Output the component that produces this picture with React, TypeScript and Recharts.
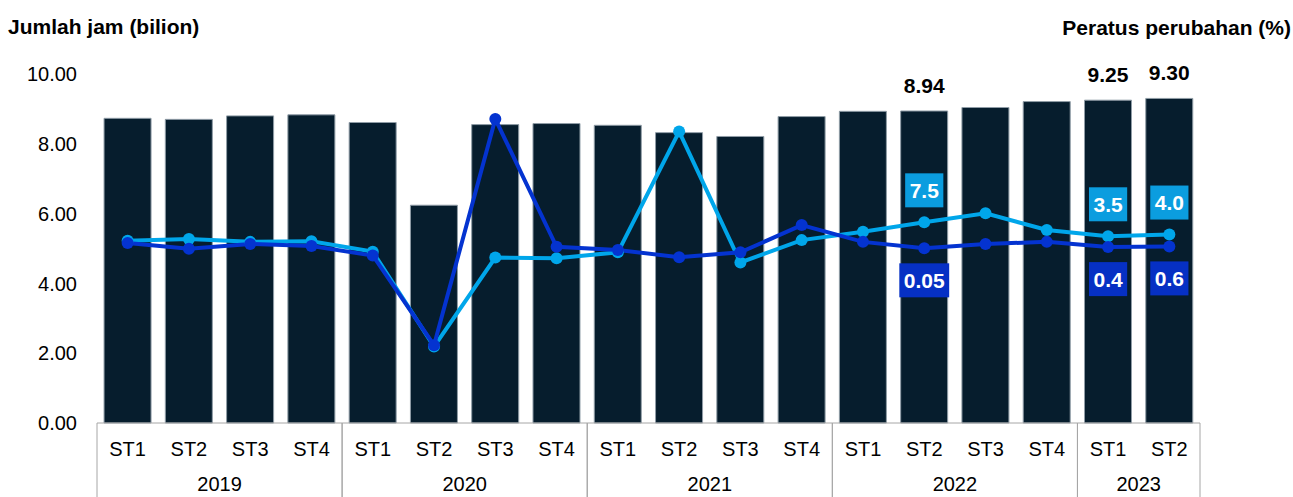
import React from 'react';
import { ComposedChart, Bar, Line, XAxis, YAxis, LabelList } from 'recharts';

const quarters = ['ST1', 'ST2', 'ST3', 'ST4', 'ST1', 'ST2', 'ST3', 'ST4', 'ST1', 'ST2', 'ST3', 'ST4', 'ST1', 'ST2', 'ST3', 'ST4', 'ST1', 'ST2'];
const years = ['2019', '2019', '2019', '2019', '2020', '2020', '2020', '2020', '2021', '2021', '2021', '2021', '2022', '2022', '2022', '2022', '2023', '2023'];
const hours = [8.73, 8.70, 8.80, 8.83, 8.61, 6.24, 8.55, 8.58, 8.53, 8.32, 8.21, 8.78, 8.93, 8.94, 9.04, 9.21, 9.25, 9.30];
const hoursLabels = ['', '', '', '', '', '', '', '', '', '', '', '', '', '8.94', '', '', '9.25', '9.30'];
const changeLight = [2.2, 2.7, 1.9, 2.1, -0.9, -28.1, -2.6, -2.8, -1.1, 33.5, -4.0, 2.4, 4.8, 7.5, 10.1, 5.3, 3.5, 4.0];
const changeLightLabels = ['', '', '', '', '', '', '', '', '', '', '', '', '', '7.5', '', '', '3.5', '4.0'];
const changeDark = [1.6, -0.1, 1.3, 0.7, -2.0, -27.7, 37.1, 0.5, -0.4, -2.5, -1.1, 6.7, 1.9, 0.05, 1.3, 1.9, 0.4, 0.6];
const changeDarkLabels = ['', '', '', '', '', '', '', '', '', '', '', '', '', '0.05', '', '', '0.4', '0.6'];
const leftTicks = [0, 2, 4, 6, 8, 10];
const rightTicks = [-50, -30, -10, 10, 30, 50];

const data = quarters.map((q, i) => ({
  q,
  year: years[i],
  hours: hours[i],
  hLabel: hoursLabels[i],
  light: changeLight[i],
  lightLabel: changeLightLabels[i],
  dark: changeDark[i],
  darkLabel: changeDarkLabels[i],
}));

const FONT = '"Liberation Sans", Arial, sans-serif';
const W = 1293;
const H = 497;
const M = { top: 74, right: 93, bottom: 0, left: 20 };
const LEFT_AXIS_W = 77;
const PLOT_W = W - M.left - LEFT_AXIS_W - M.right;
const GRID = '#a6a6a6';
const BAR = '#061d2d';
const LIGHT = '#00a6ea';
const LIGHT_BOX = '#0b9ddf';
const DARK = '#0433d0';
const DARK_BOX = '#0630c4';

const QuarterTick = (props: any) => {
  const { x, y, index } = props;
  const n = data.length;
  const axisW = typeof props.width === 'number' && props.width > 0 ? props.width : PLOT_W;
  const band = axisW / n;
  const yr = years[index];
  const first = index === 0 || years[index - 1] !== yr;
  const last = index === n - 1 || years[index + 1] !== yr;
  const count = years.filter((v) => v === yr).length;
  return (
    <g>
      <text x={x} y={y + 33} textAnchor="middle" fontFamily={FONT} fontSize={20} fill="#000">
        {quarters[index]}
      </text>
      {first && <line x1={x - band / 2} x2={x - band / 2} y1={y} y2={y + 80} stroke={GRID} strokeWidth={1} />}
      {last && <line x1={x + band / 2} x2={x + band / 2} y1={y} y2={y + 80} stroke={GRID} strokeWidth={1} />}
      {first && (
        <text x={x + ((count - 1) * band) / 2} y={y + 68} textAnchor="middle" fontFamily={FONT} fontSize={20} fill="#000">
          {yr}
        </text>
      )}
    </g>
  );
};

const getXY = (props: any) => {
  const vb = props.viewBox || {};
  const x = typeof props.x === 'number' ? props.x : vb.x;
  const y = typeof props.y === 'number' ? props.y : vb.y;
  const width = typeof props.width === 'number' ? props.width : vb.width || 0;
  return { x, y, width };
};

const BarTopLabel = (props: any) => {
  const { value } = props;
  if (!value) return null;
  const { x, y, width } = getXY(props);
  return (
    <text x={x + width / 2} y={y - 18} textAnchor="middle" fontFamily={FONT} fontWeight="bold" fontSize={21} fill="#000">
      {value}
    </text>
  );
};

const makeBoxLabel = (fill: string, offset: number) => (props: any) => {
  const { value } = props;
  if (!value) return null;
  const { x, y } = getXY(props);
  const s = String(value);
  let tw = 0;
  for (const c of s) tw += c === '.' ? 0.278 * 21 : 0.556 * 21;
  const bw = tw + 9;
  const bh = 34;
  const cy = y + offset;
  return (
    <g>
      <rect x={x - bw / 2} y={cy - bh / 2} width={bw} height={bh} fill={fill} />
      <text x={x} y={cy + 7.5} textAnchor="middle" fontFamily={FONT} fontWeight="bold" fontSize={21} fill="#fff">
        {s}
      </text>
    </g>
  );
};

const LightLabel = makeBoxLabel(LIGHT_BOX, -32);
const DarkLabel = makeBoxLabel(DARK_BOX, 32);

export default function App() {
  return (
    <div style={{ position: 'absolute', left: 0, top: 0, width: W, height: H, overflow: 'hidden', background: '#fff' }}>
      <ComposedChart width={W} height={H} data={data} margin={M} barCategoryGap="11.5%">
        <XAxis
          dataKey="q"
          interval={0}
          tickLine={false}
          tickSize={0}
          tickMargin={0}
          height={H - 423}
          axisLine={{ stroke: GRID, strokeWidth: 1 }}
          tick={<QuarterTick />}
        />
        <YAxis
          yAxisId="left"
          orientation="left"
          width={LEFT_AXIS_W}
          domain={[0, 10]}
          ticks={leftTicks}
          tickFormatter={(v: number) => v.toFixed(2)}
          axisLine={false}
          tickLine={false}
          tickSize={0}
          tickMargin={20}
          tick={{ fontFamily: FONT, fontSize: 20, fill: '#000' }}
        />
        <YAxis
          yAxisId="right"
          orientation="right"
          width={0}
          domain={[-50, 50]}
          ticks={rightTicks}
          tickFormatter={(v: number) => v.toFixed(1)}
          axisLine={false}
          tickLine={false}
          tickSize={0}
          tickMargin={21}
          tick={{ fontFamily: FONT, fontSize: 20, fill: '#000', textAnchor: 'start' }}
        />
        <Bar yAxisId="left" dataKey="hours" fill={BAR} stroke="#8f9ca6" strokeWidth={1} isAnimationActive={false}>
          <LabelList dataKey="hLabel" content={BarTopLabel} />
        </Bar>
        <Line
          yAxisId="right"
          dataKey="light"
          stroke={LIGHT}
          strokeWidth={4}
          dot={{ r: 6, fill: LIGHT, stroke: LIGHT, strokeWidth: 0 }}
          activeDot={false}
          isAnimationActive={false}
        >
          <LabelList dataKey="lightLabel" content={LightLabel} />
        </Line>
        <Line
          yAxisId="right"
          dataKey="dark"
          stroke={DARK}
          strokeWidth={4}
          dot={{ r: 6, fill: DARK, stroke: DARK, strokeWidth: 0 }}
          activeDot={false}
          isAnimationActive={false}
        >
          <LabelList dataKey="darkLabel" content={DarkLabel} />
        </Line>
      </ComposedChart>
      <svg width={W} height={60} style={{ position: 'absolute', left: 0, top: 0, pointerEvents: 'none' }}>
        <text x={8} y={33.5} fontFamily={FONT} fontWeight="bold" fontSize={21} fill="#000">
          Jumlah jam (bilion)
        </text>
        <text x={1291} y={35} textAnchor="end" fontFamily={FONT} fontWeight="bold" fontSize={21} fill="#000">
          Peratus perubahan (%)
        </text>
      </svg>
    </div>
  );
}
